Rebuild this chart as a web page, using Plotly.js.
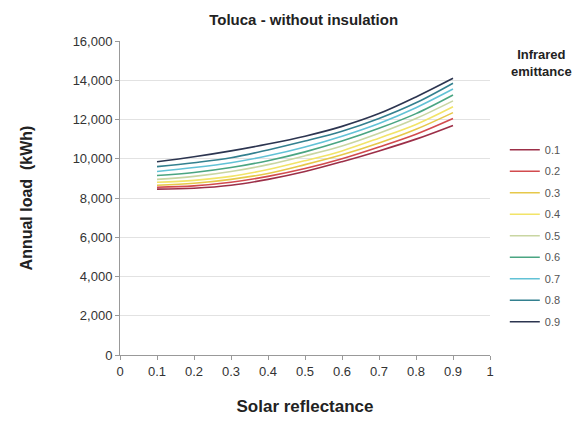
<!DOCTYPE html>
<html><head><script src="https://cdn.plot.ly/plotly-3.0.1.min.js"></script>
<style>body{margin:0}</style></head><body>
<div id="c" style="width:584px;height:423px"></div>
<script>
const reflectance=[0.1,0.2,0.3,0.4,0.5,0.6,0.7,0.8,0.9];
const emittance=['0.1','0.2','0.3','0.4','0.5','0.6','0.7','0.8','0.9'];
const e01=[8450,8500,8650,8950,9350,9850,10400,11000,11700];
const e02=[8550,8620,8800,9100,9500,10000,10600,11250,12050];
const e03=[8650,8750,8950,9250,9700,10200,10800,11500,12350];
const e04=[8800,8900,9100,9450,9900,10400,11050,11750,12650];
const e05=[8950,9100,9350,9700,10150,10650,11300,12050,12950];
const e06=[9150,9300,9550,9900,10350,10900,11550,12300,13250];
const e07=[9350,9550,9800,10150,10600,11150,11800,12600,13550];
const e08=[9600,9800,10050,10450,10900,11400,12050,12850,13850];
const e09=[9850,10100,10400,10750,11150,11650,12300,13150,14100];
const series=[e01,e02,e03,e04,e05,e06,e07,e08,e09];
const colors=['#9c2f48','#d24b4e','#e6c84a','#f2e468','#c9d6a2','#4aa582','#62c2d6','#33808f','#2c3550'];
const traces=series.map((s,i)=>({x:reflectance,y:s,name:emittance[i],legendgroup:'g'+i,mode:'lines',type:'scatter',line:{color:colors[i],width:1.6,shape:'spline'}}));
Plotly.newPlot('c',traces,{
 width:584,height:423,margin:{l:120,r:94,t:41,b:68},
 paper_bgcolor:'#fff',plot_bgcolor:'#fff',
 font:{family:'Liberation Sans, Arial',color:'#333'},
 title:{text:'<b>Toluca - without insulation</b>',x:0.52,xanchor:'center',y:0.965,font:{size:15,color:'#222'}},
 xaxis:{range:[0,1],dtick:0.1,tickformat:'.1~f',showgrid:false,zeroline:false,showline:true,linecolor:'#999',ticks:'outside',ticklen:4,tickcolor:'#999',tickfont:{size:13},
  title:{text:'<b>Solar reflectance</b>',font:{size:17,color:'#222'},standoff:22}},
 yaxis:{range:[0,16000],dtick:2000,tickformat:',',showgrid:true,gridcolor:'#e2e2e2',zeroline:false,showline:true,linecolor:'#999',ticks:'outside',ticklen:4,tickcolor:'#999',tickfont:{size:13},
  title:{text:'<b>Annual load  (kWh)</b>',font:{size:16,color:'#222'},standoff:36}},
 legend:{x:1.04,xanchor:'left',y:0.70,yanchor:'top',font:{size:11,color:'#555'},tracegroupgap:2.5,itemwidth:30},
 annotations:[{xref:'paper',yref:'paper',x:1.14,y:0.93,xanchor:'center',yanchor:'middle',showarrow:false,
  text:'<b>Infrared<br>emittance</b>',font:{size:13,color:'#222'}}],
 showlegend:true
},{displayModeBar:false});
</script></body></html>
